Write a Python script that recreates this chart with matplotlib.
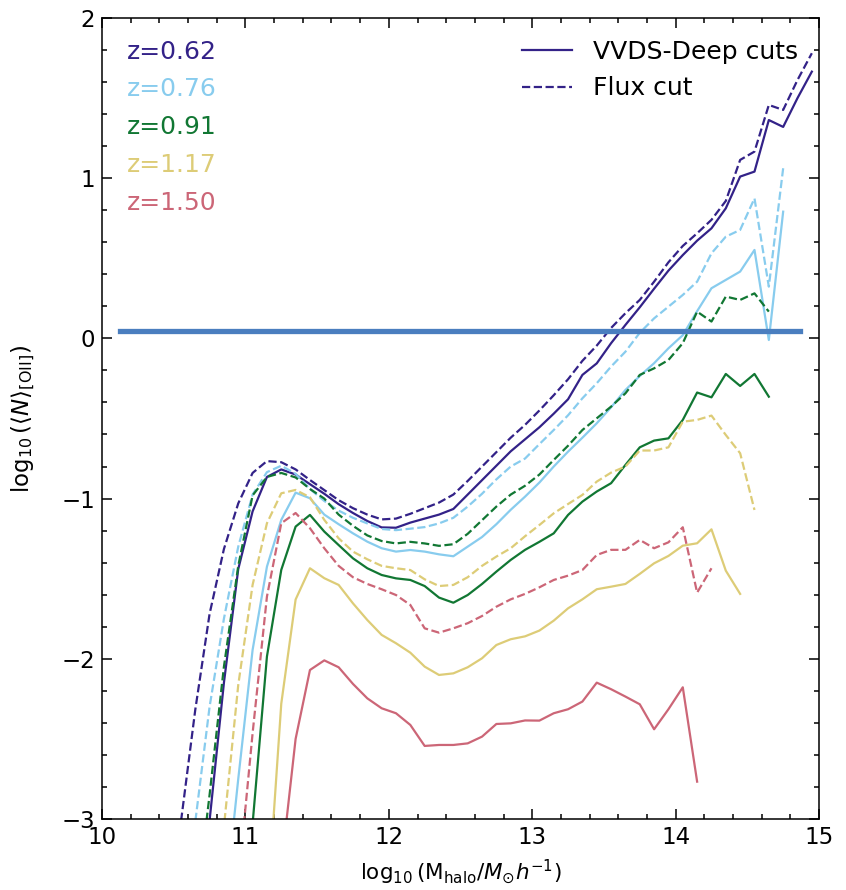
import numpy as np
import matplotlib
matplotlib.use("Agg")
import matplotlib.pyplot as plt

nan = np.nan

# halo mass bin centres, log10(M/Msun h^-1)
log_mass = [10.45, 10.55, 10.65, 10.75, 10.85, 10.95, 11.05, 11.15, 11.25, 11.35,
            11.45, 11.55, 11.65, 11.75, 11.85, 11.95, 12.05, 12.15, 12.25, 12.35,
            12.45, 12.55, 12.65, 12.75, 12.85, 12.95, 13.05, 13.15, 13.25, 13.35,
            13.45, 13.55, 13.65, 13.75, 13.85, 13.95, 14.05, 14.15, 14.25, 14.35,
            14.45, 14.55, 14.65, 14.75, 14.85, 14.95]

redshifts = ['0.62', '0.76', '0.91', '1.17', '1.50']
colours = ['#332288', '#88CCEE', '#117733', '#DDCC77', '#CC6677']

# log10 <N>_[OII], VVDS-Deep cuts (solid)
vvds_062 = [nan, nan, -3.7, -3.01, -2.15, -1.44, -1.08, -0.865, -0.818, -0.85,
            -0.91, -0.97, -1.035, -1.09, -1.14, -1.18, -1.182, -1.15, -1.125, -1.10,
            -1.065, -0.975, -0.885, -0.795, -0.705, -0.63, -0.555, -0.47, -0.38, -0.228,
            -0.156, -0.03, 0.084, 0.194, 0.31, 0.423, 0.52, 0.61, 0.687, 0.812,
            1.01, 1.041, 1.363, 1.32, 1.50, 1.665]
vvds_076 = [nan, nan, nan, nan, -3.6, -2.75, -1.945, -1.425, -1.133, -0.963,
            -0.998, -1.10, -1.16, -1.217, -1.269, -1.31, -1.331, -1.321, -1.331, -1.348,
            -1.36, -1.30, -1.24, -1.16, -1.07, -0.988, -0.90, -0.80, -0.707, -0.62,
            -0.53, -0.43, -0.322, -0.235, -0.155, -0.062, 0.02, 0.17, 0.313, 0.365,
            0.417, 0.552, -0.01, 0.791, nan, nan]
vvds_091 = [nan, nan, nan, nan, nan, -3.6, -3.03, -1.986, -1.445, -1.175,
            -1.102, -1.206, -1.29, -1.373, -1.435, -1.477, -1.498, -1.508, -1.546, -1.618,
            -1.65, -1.602, -1.533, -1.456, -1.383, -1.32, -1.27, -1.217, -1.102, -1.019,
            -0.956, -0.904, -0.79, -0.68, -0.638, -0.624, -0.509, -0.338, -0.368, -0.222,
            -0.297, -0.222, -0.364, nan, nan, nan]
vvds_117 = [nan, nan, nan, nan, nan, nan, nan, -3.6, -2.28, -1.63,
            -1.435, -1.497, -1.539, -1.654, -1.758, -1.851, -1.903, -1.962, -2.049, -2.101,
            -2.091, -2.053, -1.997, -1.914, -1.878, -1.86, -1.824, -1.762, -1.685, -1.629,
            -1.566, -1.55, -1.533, -1.47, -1.404, -1.358, -1.294, -1.279, -1.192, -1.45,
            -1.595, nan, nan, nan, nan, nan]
vvds_150 = [nan, nan, nan, nan, nan, nan, nan, nan, -3.3, -2.50,
            -2.07, -2.01, -2.053, -2.157, -2.247, -2.309, -2.34, -2.413, -2.544, -2.538,
            -2.538, -2.528, -2.486, -2.407, -2.403, -2.385, -2.386, -2.34, -2.315, -2.267,
            -2.149, -2.19, -2.236, -2.284, -2.44, -2.315, -2.178, -2.767, nan, nan,
            nan, nan, nan, nan, nan, nan]

# log10 <N>_[OII], flux cut only (dashed)
flux_062 = [-3.8, -3.02, -2.32, -1.72, -1.315, -1.03, -0.84, -0.766, -0.773, -0.818,
            -0.884, -0.947, -1.01, -1.06, -1.10, -1.13, -1.125, -1.095, -1.06, -1.025,
            -0.975, -0.89, -0.80, -0.71, -0.62, -0.54, -0.45, -0.355, -0.255, -0.14,
            -0.045, 0.065, 0.157, 0.24, 0.354, 0.475, 0.577, 0.656, 0.74, 0.858,
            1.114, 1.166, 1.457, 1.426, 1.613, 1.78]
flux_076 = [nan, -3.7, -3.02, -2.3, -1.75, -1.30, -0.975, -0.835, -0.795, -0.845,
            -0.94, -1.015, -1.075, -1.12, -1.155, -1.19, -1.197, -1.188, -1.178, -1.155,
            -1.12, -1.05, -0.97, -0.88, -0.80, -0.75, -0.66, -0.572, -0.48, -0.374,
            -0.28, -0.176, -0.083, 0.035, 0.125, 0.198, 0.271, 0.354, 0.531, 0.635,
            0.677, 0.874, 0.323, 1.062, nan, nan]
flux_091 = [nan, nan, -3.6, -2.85, -2.05, -1.42, -0.98, -0.865, -0.84, -0.868,
            -0.94, -1.0, -1.10, -1.17, -1.23, -1.265, -1.28, -1.27, -1.28, -1.295,
            -1.285, -1.22, -1.135, -1.05, -0.975, -0.92, -0.85, -0.759, -0.67, -0.572,
            -0.499, -0.426, -0.343, -0.228, -0.187, -0.135, -0.03, 0.167, 0.105, 0.261,
            0.24, 0.281, 0.167, nan, nan, nan]
flux_117 = [nan, nan, nan, -3.6, -3.05, -2.163, -1.539, -1.154, -0.967, -0.946,
            -0.992, -1.133, -1.248, -1.331, -1.379, -1.42, -1.435, -1.446, -1.504, -1.546,
            -1.539, -1.491, -1.42, -1.362, -1.31, -1.235, -1.165, -1.092, -1.034, -0.977,
            -0.894, -0.838, -0.80, -0.70, -0.70, -0.68, -0.52, -0.509, -0.482, -0.603,
            -0.717, -1.071, nan, nan, nan, nan]
flux_150 = [nan, nan, nan, nan, nan, -3.4, -2.465, -1.612, -1.154, -1.09,
            -1.185, -1.31, -1.42, -1.491, -1.533, -1.566, -1.602, -1.664, -1.81, -1.837,
            -1.81, -1.778, -1.733, -1.675, -1.629, -1.595, -1.554, -1.508, -1.481, -1.446,
            -1.352, -1.32, -1.32, -1.258, -1.31, -1.273, -1.179, -1.587, -1.435, nan,
            nan, nan, nan, nan, nan, nan]

vvds = [vvds_062, vvds_076, vvds_091, vvds_117, vvds_150]
flux = [flux_062, flux_076, flux_091, flux_117, flux_150]

# horizontal reference line
ref_x = [10.125, 14.87]
ref_y = [0.048, 0.048]

fig = plt.figure(figsize=(8.46, 8.9), dpi=100)
ax = fig.add_axes([0.1206, 0.0798, 0.8475, 0.90])

for i in range(len(redshifts)):
    ax.plot(log_mass, vvds[i], '-', color=colours[i], lw=1.6)
    ax.plot(log_mass, flux[i], '--', color=colours[i], lw=1.6)

ax.plot(ref_x, ref_y, '-', color='#4a7ebf', lw=3.8)

ax.set_xlim(10, 15)
ax.set_ylim(-3, 2)
ax.set_xticks([10, 11, 12, 13, 14, 15])
ax.set_yticks([-3, -2, -1, 0, 1, 2])
ax.xaxis.set_minor_locator(matplotlib.ticker.MultipleLocator(0.2))
ax.yaxis.set_minor_locator(matplotlib.ticker.MultipleLocator(0.2))
ax.tick_params(which='both', direction='in', top=True, right=True, width=1.1)
ax.tick_params(which='major', length=7.5, labelsize=16.5, pad=5)
ax.tick_params(which='minor', length=3.8)
for sp in ax.spines.values():
    sp.set_linewidth(1.1)

ax.set_xlabel(r'$\log_{10}(\mathrm{M_{halo}}/M_{\odot}h^{-1})$', fontsize=15.5, labelpad=6)
ax.set_ylabel(r'$\log_{10}(\langle N\rangle_{\rm [OII]})$', fontsize=16.5)
ax.yaxis.set_label_coords(-0.089, 0.5)

# legend for the line styles
h1, = ax.plot([], [], '-', color=colours[0], lw=1.6, label='VVDS-Deep cuts')
h2, = ax.plot([], [], '--', color=colours[0], lw=1.6, label='Flux cut')
ax.legend(handles=[h1, h2], loc='upper right', bbox_to_anchor=(0.985, 0.985),
          frameon=False, fontsize=18, handlelength=2.0, handletextpad=0.85,
          borderaxespad=0.0, labelspacing=0.5)

for i, z in enumerate(redshifts):
    ax.text(0.034, 0.958 - i * 0.0472, 'z=' + z, color=colours[i],
            transform=ax.transAxes, fontsize=18, va='center', ha='left')

fig.savefig('out.png', dpi=100)
